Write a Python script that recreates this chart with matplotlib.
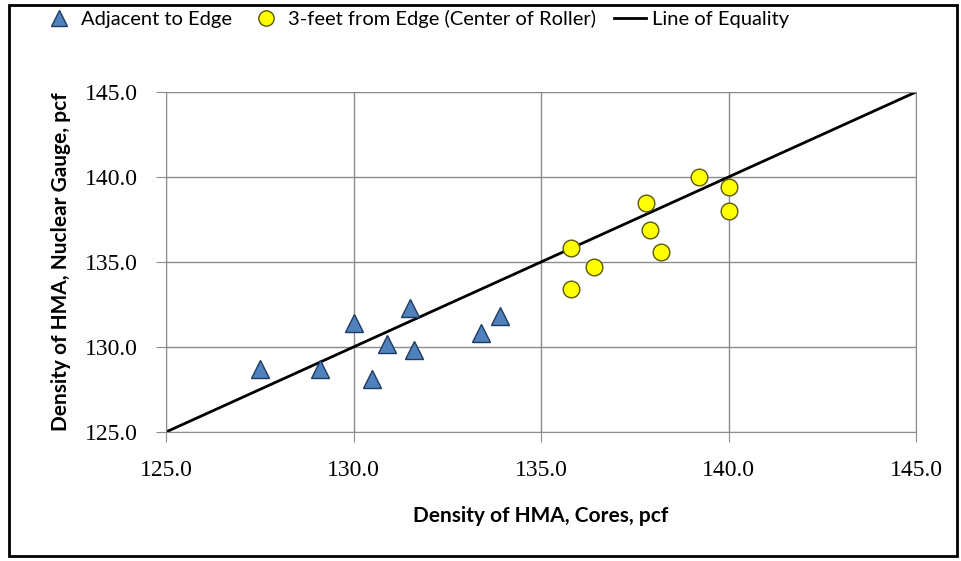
import matplotlib.pyplot as plt
from matplotlib.lines import Line2D
from matplotlib.patches import Rectangle

# Adjacent to edge (triangles)
edge_cores = [127.5, 129.1, 130.0, 130.5, 130.9, 131.5, 131.6, 133.4, 133.9]
edge_gauge = [128.7, 128.7, 131.4, 128.1, 130.2, 132.3, 129.8, 130.8, 131.8]

# 3 feet from edge (circles)
center_cores = [135.8, 136.4, 135.8, 137.8, 137.9, 138.2, 139.2, 140.0, 140.0]
center_gauge = [135.8, 134.7, 133.4, 138.5, 136.9, 135.6, 140.0, 139.4, 138.0]

equality = [125.0, 145.0]
ticks = [125.0, 130.0, 135.0, 140.0, 145.0]

sans = ['Lato', 'DejaVu Sans']
serif = ['Liberation Serif', 'DejaVu Serif']

fig = plt.figure(figsize=(9.61, 5.61), dpi=100)
ax = fig.add_axes([166 / 961, 1 - 432 / 561, 750 / 961, 340 / 561])

ax.plot(equality, equality, color='black', lw=2, zorder=2)
ax.plot(edge_cores, edge_gauge, linestyle='none', marker='^', ms=13,
        mfc='#4F81BD', mec='#1F3A5F', mew=1, zorder=3)
ax.plot(center_cores, center_gauge, linestyle='none', marker='o', ms=12,
        mfc='#FFFF00', mec='#5A5A00', mew=1, zorder=3)

ax.set_xlim(125, 145)
ax.set_ylim(125, 145)
ax.set_xticks(ticks)
ax.set_yticks(ticks)
ax.set_xticklabels(['%.1f' % t for t in ticks], family=serif, fontsize=17)
ax.set_yticklabels(['%.1f' % t for t in ticks], family=serif, fontsize=17)
ax.grid(True, color='#8C8C8C', lw=1)
ax.set_axisbelow(True)
for s in ax.spines.values():
    s.set_color('#8C8C8C')
ax.tick_params(direction='out', length=7, color='#8C8C8C')
ax.tick_params(axis='x', pad=13)
ax.tick_params(axis='y', pad=13)

ax.set_xlabel('Density of HMA, Cores, pcf', family=sans, fontsize=15,
              fontweight='bold', labelpad=18)
ax.set_ylabel('Density of HMA, Nuclear Gauge, pcf', family=sans, fontsize=15,
              fontweight='bold', labelpad=10)

handles = [
    Line2D([], [], linestyle='none', marker='^', ms=11, mfc='#4F81BD', mec='#1F3A5F'),
    Line2D([], [], linestyle='none', marker='o', ms=11, mfc='#FFFF00', mec='#5A5A00'),
    Line2D([], [], color='black', lw=2),
]
fig.legend(handles, ['Adjacent to Edge', '3-feet from Edge (Center of Roller)', 'Line of Equality'],
           loc='center', bbox_to_anchor=(416 / 961, 1 - 19 / 561), ncol=3, frameon=False,
           prop={'family': sans, 'size': 14.5}, handlelength=1.6, columnspacing=0.9,
           handletextpad=0.3)

fig.patches.append(Rectangle((9 / 961, 5 / 561), 948 / 961, 551 / 561, transform=fig.transFigure,
                             fill=False, edgecolor='black', lw=2))

fig.savefig('out.png', dpi=100)
